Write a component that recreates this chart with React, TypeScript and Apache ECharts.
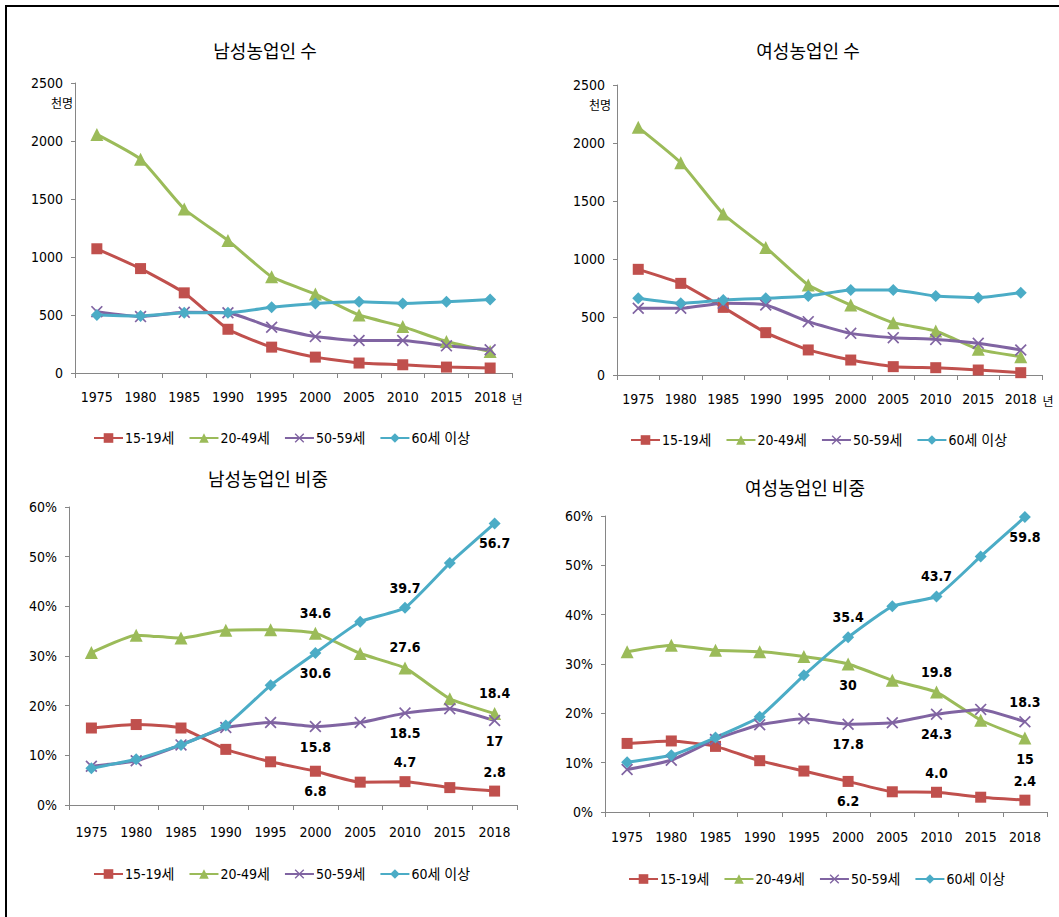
import React, { useEffect, useRef } from "react";
import * as echarts from "echarts";

const years = ["1975", "1980", "1985", "1990", "1995", "2000", "2005", "2010", "2015", "2018"];
const seriesNames = ["15-19세", "20-49세", "50-59세", "60세 이상"];

const maleCount15_19 = [1071, 900, 691, 377, 223, 137, 86, 71, 51, 43];
const maleCount20_49 = [2057, 1843, 1414, 1143, 829, 680, 500, 400, 271, 186];
const maleCount50_59 = [529, 486, 523, 520, 394, 314, 280, 280, 234, 200];
const maleCount60plus = [500, 491, 520, 520, 566, 600, 614, 600, 614, 634];

const femaleCount15_19 = [911, 790, 583, 365, 216, 129, 72, 63, 43, 20];
const femaleCount20_49 = [2135, 1830, 1388, 1100, 776, 603, 451, 379, 221, 158];
const femaleCount50_59 = [575, 575, 618, 603, 460, 359, 322, 307, 273, 216];
const femaleCount60plus = [661, 618, 647, 661, 681, 733, 733, 681, 667, 710];

const maleShare15_19 = [15.5, 16.2, 15.5, 11.2, 8.7, 6.8, 4.6, 4.7, 3.5, 2.8];
const maleShare20_49 = [30.7, 34.2, 33.6, 35.2, 35.3, 34.6, 30.5, 27.6, 21.4, 18.4];
const maleShare50_59 = [7.8, 8.9, 12.1, 15.6, 16.6, 15.8, 16.6, 18.5, 19.4, 17];
const maleShare60plus = [7.4, 9.2, 12.1, 16.0, 24.1, 30.6, 36.9, 39.7, 48.7, 56.7];

const femaleShare15_19 = [13.9, 14.4, 13.3, 10.4, 8.3, 6.2, 4.1, 4.0, 3.0, 2.4];
const femaleShare20_49 = [32.5, 33.8, 32.8, 32.5, 31.5, 30, 26.7, 24.3, 18.6, 15];
const femaleShare50_59 = [8.6, 10.5, 14.7, 17.7, 18.9, 17.8, 18.1, 19.8, 20.8, 18.3];
const femaleShare60plus = [10.1, 11.5, 15.1, 19.3, 27.7, 35.4, 41.7, 43.7, 51.8, 59.8];

const countAxisMax = 2500;
const countAxisStep = 500;
const shareAxisMax = 60;
const shareAxisStep = 10;

const chartTitles = ["남성농업인 수", "여성농업인 수", "남성농업인 비중", "여성농업인 비중"];
const countUnit = "천명";
const yearUnit = "년";

type LabelSpec = { idx: number; pos: "top" | "bottom"; text?: string };

const maleShareLabelSpec: LabelSpec[][] = [
  [{ idx: 5, pos: "bottom" }, { idx: 7, pos: "top" }, { idx: 9, pos: "top" }],
  [{ idx: 5, pos: "top" }, { idx: 7, pos: "top" }, { idx: 9, pos: "top" }],
  [{ idx: 5, pos: "bottom" }, { idx: 7, pos: "bottom" }, { idx: 9, pos: "bottom" }],
  [{ idx: 5, pos: "bottom" }, { idx: 7, pos: "top" }, { idx: 9, pos: "bottom" }],
];
const femaleShareLabelSpec: LabelSpec[][] = [
  [{ idx: 5, pos: "bottom" }, { idx: 7, pos: "top", text: "4.0" }, { idx: 9, pos: "top" }],
  [{ idx: 5, pos: "bottom" }, { idx: 7, pos: "top", text: "19.8" }, { idx: 9, pos: "bottom" }],
  [{ idx: 5, pos: "bottom" }, { idx: 7, pos: "bottom", text: "24.3" }, { idx: 9, pos: "top" }],
  [{ idx: 5, pos: "top" }, { idx: 7, pos: "top" }, { idx: 9, pos: "bottom" }],
];

const COLORS = ["#C0504D", "#9BBB59", "#8064A2", "#4BACC6"];
const X_PATH =
  "path://M0,1L1,0L5,4L9,0L10,1L6,5L10,9L9,10L5,6L1,10L0,9L4,5Z";
const SYMBOLS = ["rect", "triangle", X_PATH, "diamond"];
const SYMBOL_SIZES = [11, 13, 12, 12];

const NARROW = '"DejaVu Sans Condensed", "Liberation Sans Narrow", "Noto Sans CJK KR", sans-serif';
const CJK = '"Noto Sans CJK KR", sans-serif';

const grids = [
  { left: 75, top: 83, width: 437, height: 290 },
  { left: 617, top: 85, width: 425, height: 290 },
  { left: 69, top: 507, width: 448, height: 298 },
  { left: 605, top: 516, width: 442, height: 296 },
];

const legendPos = [
  { left: 93, top: 431 },
  { left: 630, top: 433 },
  { left: 93, top: 867 },
  { left: 628, top: 872 },
];

function buildData(values: number[], spec?: LabelSpec[]) {
  return values.map((v, i) => {
    const s = spec ? spec.find((x) => x.idx === i) : undefined;
    if (!s) return v;
    const txt = s.text ?? String(v);
    return {
      value: v,
      label: {
        show: true,
        position: s.pos,
        distance: 7,
        formatter: () => txt,
        fontFamily: NARROW,
        fontWeight: "bold",
        fontSize: 14,
        color: "#000",
      },
    };
  });
}

export default function App() {
  const ref = useRef<HTMLDivElement>(null);
  useEffect(() => {
    if (!ref.current) return;
    const chart = echarts.init(ref.current, undefined, { renderer: "svg" });

    const panels = [
      { data: [maleCount15_19, maleCount20_49, maleCount50_59, maleCount60plus], spec: undefined as LabelSpec[][] | undefined },
      { data: [femaleCount15_19, femaleCount20_49, femaleCount50_59, femaleCount60plus], spec: undefined as LabelSpec[][] | undefined },
      { data: [maleShare15_19, maleShare20_49, maleShare50_59, maleShare60plus], spec: maleShareLabelSpec },
      { data: [femaleShare15_19, femaleShare20_49, femaleShare50_59, femaleShare60plus], spec: femaleShareLabelSpec },
    ];

    const xLabelMargins = [17, 17, 20, 18];

    const xAxis = grids.map((_, gi) => ({
      type: "category",
      gridIndex: gi,
      data: years,
      boundaryGap: true,
      axisLine: { lineStyle: { color: "#868686", width: 1 } },
      axisTick: { show: true, length: 5, lineStyle: { color: "#868686" } },
      axisLabel: {
        color: "#000",
        fontSize: 14,
        fontFamily: NARROW,
        margin: xLabelMargins[gi],
        interval: 0,
      },
      splitLine: { show: false },
    }));

    const yAxis = grids.map((_, gi) => {
      const isShare = gi >= 2;
      return {
        type: "value",
        gridIndex: gi,
        min: 0,
        max: isShare ? shareAxisMax : countAxisMax,
        interval: isShare ? shareAxisStep : countAxisStep,
        axisLine: { show: true, lineStyle: { color: "#868686", width: 1 } },
        axisTick: { show: true, inside: false, length: 4, lineStyle: { color: "#868686" } },
        axisLabel: {
          color: "#000",
          fontSize: 14,
          fontFamily: NARROW,
          margin: 12,
          formatter: (v: number) => (isShare ? `${v}%` : String(v)),
        },
        splitLine: { show: false },
      };
    });

    const series: any[] = [];
    panels.forEach((p, gi) => {
      p.data.forEach((vals, si) => {
        series.push({
          type: "line",
          name: seriesNames[si],
          xAxisIndex: gi,
          yAxisIndex: gi,
          data: buildData(vals, p.spec ? p.spec[si] : undefined),
          smooth: 0.15,
          symbol: SYMBOLS[si],
          symbolSize: SYMBOL_SIZES[si],
          showAllSymbol: true,
          color: COLORS[si],
          lineStyle: { width: 3, color: COLORS[si] },
          itemStyle: { color: COLORS[si] },
          label: { show: false },
          emphasis: { disabled: true },
        });
      });
    });

    const legend = legendPos.map((lp) => ({
      left: lp.left,
      top: lp.top,
      padding: 0,
      data: seriesNames,
      itemWidth: 29,
      itemHeight: 12,
      itemGap: 14,
      selectedMode: false,
      textStyle: { fontSize: 14, fontFamily: NARROW, color: "#000", padding: [0, 0, 0, -3] },
    }));

    const titlePos = [
      { x: 265, y: 50 },
      { x: 808, y: 50 },
      { x: 268, y: 478 },
      { x: 805, y: 487 },
    ];

    const unitStyle = { fontSize: 12, fontFamily: CJK, fill: "#000", align: "center", verticalAlign: "middle" };

    const graphic: any[] = [
      {
        type: "rect",
        shape: { x: 6, y: 6, width: 1200, height: 1000 },
        style: { fill: "none", stroke: "#000", lineWidth: 2 },
        silent: true,
      },
      ...titlePos.map((tp, i) => ({
        type: "text",
        x: tp.x,
        y: tp.y,
        style: {
          text: chartTitles[i],
          fontSize: 18,
          fontFamily: CJK,
          fill: "#000",
          align: "center",
          verticalAlign: "middle",
        },
      })),
      { type: "text", x: 62, y: 102, style: { ...unitStyle, text: countUnit } },
      { type: "text", x: 600, y: 104, style: { ...unitStyle, text: countUnit } },
      { type: "text", x: 517, y: 398, style: { ...unitStyle, text: yearUnit } },
      { type: "text", x: 1048, y: 400, style: { ...unitStyle, text: yearUnit } },
    ];

    chart.setOption({
      animation: false,
      backgroundColor: "#fff",
      grid: grids.map((g) => ({ ...g, containLabel: false })),
      xAxis,
      yAxis,
      legend,
      series,
      graphic,
    });

    return () => chart.dispose();
  }, []);

  return (
    <div
      ref={ref}
      style={{ position: "absolute", left: 0, top: 0, width: 1059, height: 917 }}
    />
  );
}
